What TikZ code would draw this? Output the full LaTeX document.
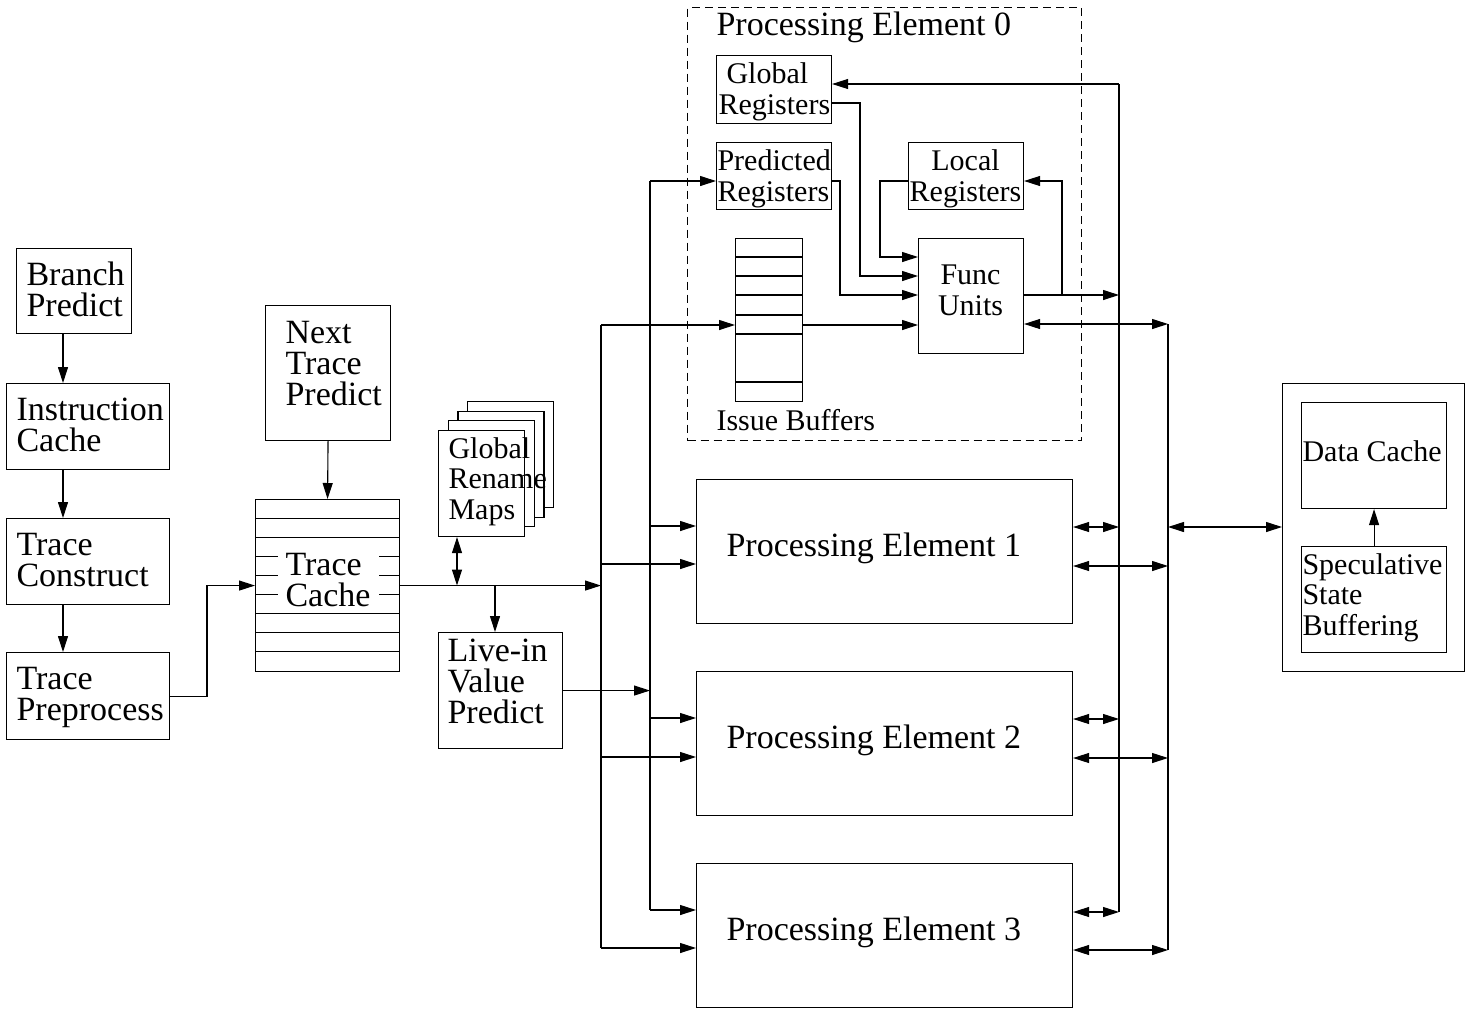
\documentclass[tikz,border=0pt]{standalone}
\usepackage{fontspec}
\setmainfont{Liberation Serif}
\usetikzlibrary{arrows.meta}
\newcommand\BigTxt{\fontsize{34}{31}\selectfont}
\newcommand\SmTxt{\fontsize{30}{30.5}\selectfont}
\begin{document}
\begin{tikzpicture}[x=1pt,y=-1pt,line width=1.1pt,
  box/.style={draw,rectangle,inner sep=0pt,anchor=north west},
  lbl/.style={inner sep=0pt,anchor=base west,align=left,font=\BigTxt},
  slbl/.style={inner sep=0pt,anchor=base west,align=left,font=\SmTxt},
  arr/.style={-{Triangle[length=16pt,width=10pt]}},
  darr/.style={{Triangle[length=16pt,width=10pt]}-{Triangle[length=16pt,width=10pt]}},
  pedash/.style={draw,dash pattern=on 8pt off 5pt}]
\path[use as bounding box] (0,0) rectangle (1465,1010);

% ---- left column
\node[box,minimum width=115pt,minimum height=85pt] (BP) at (16,248) {};
\node[box,minimum width=163pt,minimum height=86pt] (IC) at (6,383) {};
\node[box,minimum width=163pt,minimum height=86pt] (TCo) at (6,518) {};
\node[box,minimum width=163pt,minimum height=87pt] (TP) at (6,652) {};
\node[lbl] (tBP) at (26,316) {Branch\\Predict};
\node[lbl] (tIC) at (16,451) {Instruction\\Cache};
\node[lbl] (tTCo) at (16,586) {Trace\\Construct};
\node[lbl] (tTP) at (16,720) {Trace\\Preprocess};

% ---- trace cache and predictors
\node[box,minimum width=125pt,minimum height=135pt] (NTP) at (265,305) {};
\node[lbl] (tNTP) at (285,405) {Next\\Trace\\Predict};
\node[box,minimum width=144pt,minimum height=172pt] (TC) at (255,499) {};
\foreach \k in {1,...,8}
  \draw ([yshift={-19.11pt*\k}]TC.north west) -- ([yshift={-19.11pt*\k}]TC.north east);
\node[font=\BigTxt,fill=white,inner xsep=8pt,inner ysep=3pt,align=left,anchor=base west] (tTC) at (277,606) {Trace\\Cache};

\node[box,fill=white,minimum width=86pt,minimum height=106pt] (GRM3) at (467.1,400.9) {};
\node[box,fill=white,minimum width=86pt,minimum height=106pt] (GRM2) at (457.4,410.6) {};
\node[box,fill=white,minimum width=86pt,minimum height=106pt] (GRM1) at (447.7,420.3) {};
\node[box,fill=white,minimum width=86pt,minimum height=106pt] (GRM) at (438,430) {};
\node[slbl] (tGRM) at (448,519) {Global\\Rename\\Maps};

\node[box,minimum width=124pt,minimum height=116pt] (LVP) at (438,632) {};
\node[lbl] (tLVP) at (447,723) {Live-in\\Value\\Predict};

% ---- processing element 0
\node[box,pedash,minimum width=394pt,minimum height=433pt] (PE0) at (687,7) {};
\node[lbl] (tPE0) at (716,35) {Processing Element 0};
\node[box,minimum width=115pt,minimum height=68pt] (GR) at (716,55) {};
\node[slbl] (tGR) at (718,114) {\hspace*{8pt}Global\\Registers};
\node[box,minimum width=115pt,minimum height=67pt] (PR) at (716,142) {};
\node[slbl] (tPR) at (717,201) {Predicted\\Registers};
\node[box,minimum width=115pt,minimum height=67pt] (LR) at (908,142) {};
\node[slbl,anchor=base,align=center] (tLR) at (965.5,201) {Local\\Registers};
\node[box,minimum width=105pt,minimum height=115pt] (FU) at (918,238) {};
\node[slbl,anchor=base,align=center] (tFU) at (970.5,315) {Func\\Units};
\node[box,minimum width=67pt,minimum height=163pt] (IB) at (735,238) {};
\foreach \d in {19,38,57,77,96,144}
  \draw ([yshift=-\d pt]IB.north west) -- ([yshift=-\d pt]IB.north east);
\node[slbl] (tIB) at (716,430) {Issue Buffers};

% ---- processing elements 1-3
\node[box,minimum width=376pt,minimum height=144pt] (PE1) at (696,479) {};
\node[box,minimum width=376pt,minimum height=144pt] (PE2) at (696,671) {};
\node[box,minimum width=376pt,minimum height=144pt] (PE3) at (696,863) {};
\node[lbl] (tPE1) at (726,556) {Processing Element 1};
\node[lbl] (tPE2) at (726,748) {Processing Element 2};
\node[lbl] (tPE3) at (726,940) {Processing Element 3};

% ---- data side
\node[box,minimum width=182pt,minimum height=288pt] (DB) at (1282,383) {};
\node[box,minimum width=145pt,minimum height=106pt] (DC) at (1301,402) {};
\node[box,minimum width=145pt,minimum height=106pt] (SSB) at (1301,546) {};
\node[slbl] (tDC) at (1302,461) {Data Cache};
\node[slbl] (tSSB) at (1302,635) {Speculative\\State\\Buffering};

% ---- coordinates
\coordinate (lx) at (63,0);
\coordinate (tpx) at (207,0);
\coordinate (grmx) at (457,0);
\coordinate (lvpx) at (495,0);
\coordinate (A1) at (601,325); \coordinate (A2) at (601,564);
\coordinate (A3) at (601,757); \coordinate (A4) at (601,948);
\coordinate (B0) at (650,181); \coordinate (B1) at (650,526);
\coordinate (B2) at (650,718); \coordinate (B3) at (650,910);
\coordinate (C0) at (1119,84); \coordinate (C1) at (1119,527);
\coordinate (C2) at (1119,719); \coordinate (C3) at (1119,912);
\coordinate (D0) at (1168,324); \coordinate (D1) at (1168,566);
\coordinate (D2) at (1168,758); \coordinate (D3) at (1168,950);
\coordinate (Dd) at (1168,527);
\coordinate (g1) at (860,103);
\coordinate (p1) at (840,181);
\coordinate (l1) at (880,181);
\coordinate (f1) at (1062,295);

% ---- left connectors
\draw[arr] (BP.south -| lx) -- (IC.north -| lx);
\draw[arr] (IC.south -| lx) -- (TCo.north -| lx);
\draw[arr] (TCo.south -| lx) -- (TP.north -| lx);
\draw[arr] (TP.east) -- (TP.east -| tpx) |- (TC.west);
\draw[arr] (NTP.south) -- (TC.north);
\draw[arr] (TC.east) -- (TC.east -| A1);
\draw[darr] (TC.east -| grmx) -- (GRM.south -| grmx);
\draw[arr] (TC.east -| lvpx) -- (LVP.north -| lvpx);
\draw[arr] (LVP.east) -- (LVP.east -| B1);

% ---- buses
\draw (A1) -- (A4);
\draw (B0) -- (B3);
\draw (C0) -- (C3);
\draw (D0) -- (D3);
\draw[arr] (A1) -- (A1 -| IB.west);
\draw[arr] (A2) -- (A2 -| PE1.west);
\draw[arr] (A3) -- (A3 -| PE2.west);
\draw[arr] (A4) -- (A4 -| PE3.west);
\draw[arr] (B0) -- (B0 -| PR.west);
\draw[arr] (B1) -- (B1 -| PE1.west);
\draw[arr] (B2) -- (B2 -| PE2.west);
\draw[arr] (B3) -- (B3 -| PE3.west);
\draw[arr] (C0) -- (C0 -| GR.east);
\draw[darr] (C1 -| PE1.east) -- (C1);
\draw[darr] (C2 -| PE2.east) -- (C2);
\draw[darr] (C3 -| PE3.east) -- (C3);
\draw[darr] (D1 -| PE1.east) -- (D1);
\draw[darr] (D2 -| PE2.east) -- (D2);
\draw[darr] (D3 -| PE3.east) -- (D3);
\draw[darr] (D0 -| FU.east) -- (D0);
\draw[darr] (Dd) -- (Dd -| DB.west);
\draw[arr] (SSB.north) -- (DC.south);

% ---- inside PE0
\draw[arr] (GR.east |- g1) -- (g1) |- (FU.west |- 0,276);
\draw[arr] (PR.east |- p1) -- (p1) |- (FU.west |- 0,295);
\draw[arr] (LR.west |- l1) -- (l1) |- (FU.west |- 0,257);
\draw[arr] (IB.east |- A1) -- (FU.west |- A1);
\draw[arr] (FU.east |- f1) -- (f1 -| C0);
\draw[arr] (f1) |- (LR.east |- l1);
\end{tikzpicture}
\end{document}
